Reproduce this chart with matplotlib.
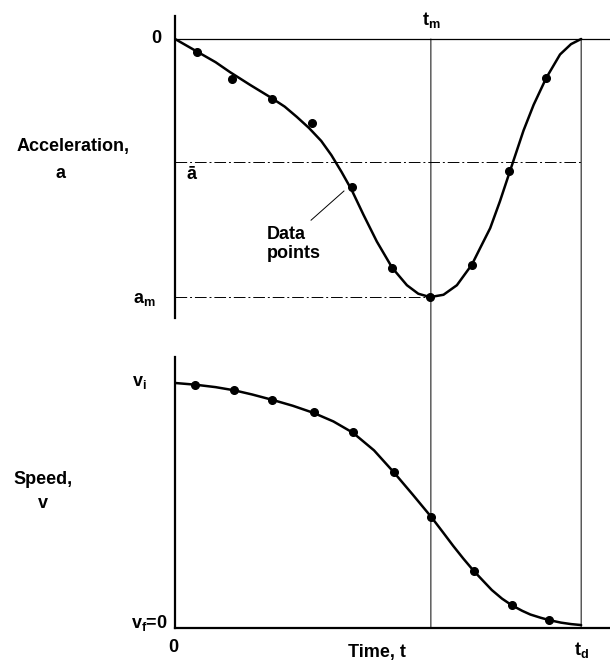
import matplotlib.pyplot as plt
from matplotlib.patches import ConnectionPatch

plt.rcParams["font.family"] = ["Liberation Sans", "DejaVu Sans"]
plt.rcParams["font.weight"] = "bold"
plt.rcParams["mathtext.default"] = "regular"

# key levels (normalised: t_d = 1, a_m = -1, v_i = 1)
T_M = 0.63
T_D = 1.0
A_BAR = -0.475
A_M = -1.0

# acceleration: measured points
acc_t = [0.053, 0.141, 0.238, 0.338, 0.435, 0.535, 0.628, 0.731, 0.823, 0.914]
acc_pts = [-0.049, -0.155, -0.232, -0.326, -0.574, -0.887, -1.0, -0.874, -0.512, -0.151]

# acceleration: faired curve
acc_curve_t = [0, 0.05, 0.10, 0.135, 0.185, 0.234, 0.27, 0.30, 0.33, 0.36, 0.385,
               0.41, 0.435, 0.464, 0.497, 0.535, 0.571, 0.599, 0.628, 0.661, 0.694,
               0.731, 0.751, 0.776, 0.800, 0.823, 0.84, 0.858, 0.883, 0.914, 0.948,
               0.975, 1.0]
acc_curve = [0, -0.045, -0.090, -0.128, -0.178, -0.225, -0.262, -0.302, -0.345, -0.395,
             -0.45, -0.515, -0.585, -0.681, -0.785, -0.887, -0.954, -0.987, -1.0, -0.991,
             -0.954, -0.874, -0.811, -0.733, -0.629, -0.52, -0.44, -0.355, -0.255, -0.151,
             -0.060, -0.02, 0]

# speed: measured points
spd_t = [0.050, 0.146, 0.240, 0.341, 0.438, 0.539, 0.631, 0.735, 0.829, 0.922]
spd_pts = [0.993, 0.970, 0.931, 0.881, 0.800, 0.635, 0.453, 0.234, 0.095, 0.034]

# speed: faired curve
spd_curve_t = [0, 0.05, 0.1, 0.146, 0.19, 0.24, 0.29, 0.341, 0.39, 0.438, 0.49, 0.539,
               0.585, 0.631, 0.66, 0.685, 0.71, 0.735, 0.76, 0.78, 0.805, 0.829, 0.855,
               0.875, 0.9, 0.922, 0.95, 0.975, 1.0]
spd_curve = [1.0, 0.993, 0.983, 0.970, 0.953, 0.931, 0.907, 0.878, 0.843, 0.797, 0.725,
             0.635, 0.545, 0.453, 0.39, 0.335, 0.283, 0.234, 0.19, 0.155, 0.12, 0.093,
             0.07, 0.055, 0.042, 0.032, 0.022, 0.016, 0.012]

FS = 13
dash_dot = (0, (12, 3, 2, 3))

fig = plt.figure(figsize=(6.1, 6.62), dpi=100)
ax1 = fig.add_axes([175 / 610, 1 - 318 / 662, 435 / 610, 302 / 662])
ax2 = fig.add_axes([175 / 610, 1 - 628 / 662, 435 / 610, 271 / 662])

# ---- acceleration panel
ax1.set_xlim(0, 1.071)
ax1.set_ylim(-1.081, 0.089)
for s in ["top", "right", "bottom"]:
    ax1.spines[s].set_visible(False)
ax1.spines["left"].set_linewidth(1.6)
ax1.set_xticks([])
ax1.set_yticks([])

ax1.axhline(0, color="black", lw=0.9)
ax1.plot([0, T_D], [A_BAR, A_BAR], color="black", lw=0.7, ls=dash_dot)
ax1.plot([0, T_M], [A_M, A_M], color="black", lw=0.7, ls=dash_dot)
ax1.plot(acc_curve_t, acc_curve, color="black", lw=1.8,
         solid_capstyle="round", solid_joinstyle="round")
ax1.plot(acc_t, acc_pts, "o", color="black", ms=5.5)
ax1.plot([0.335, 0.416], [-0.702, -0.589], color="black", lw=0.7)

ax1.text(-0.047, 0, "0", ha="center", va="center", fontsize=FS)
ax1.text(T_M, 0.074, r"$\mathregular{t_m}$", ha="center", va="center", fontsize=FS, clip_on=False)
ax1.text(0.04, -0.525, "ā", ha="center", va="center", fontsize=FS)
ax1.text(-0.075, -1.01, r"$\mathregular{a_m}$", ha="center", va="center", fontsize=FS)
ax1.text(0.225, -0.795, "Data\npoints", ha="left", va="center", fontsize=FS, linespacing=1.15)

# ---- speed panel
ax2.set_xlim(0, 1.071)
ax2.set_ylim(0, 1.106)
for s in ["top", "right"]:
    ax2.spines[s].set_visible(False)
ax2.spines["left"].set_linewidth(1.6)
ax2.spines["bottom"].set_linewidth(1.6)
ax2.set_xticks([])
ax2.set_yticks([])

ax2.plot(spd_curve_t, spd_curve, color="black", lw=1.8,
         solid_capstyle="round", solid_joinstyle="round")
ax2.plot(spd_t, spd_pts, "o", color="black", ms=5.5)

ax2.text(-0.088, 1.0, r"$\mathregular{v_i}$", ha="center", va="center", fontsize=FS)
ax2.text(-0.018, 0.02, r"v$\mathregular{_f}$=0", ha="right", va="center", fontsize=FS)
ax2.text(-0.005, -0.078, "0", ha="center", va="center", fontsize=FS, clip_on=False)
ax2.text(0.498, -0.10, "Time, t", ha="center", va="center", fontsize=FS, clip_on=False)
ax2.text(T_D, -0.09, r"$\mathregular{t_d}$", ha="center", va="center", fontsize=FS, clip_on=False)

# vertical lines at t_m and t_d spanning both panels
for tv in [T_M, T_D]:
    con = ConnectionPatch(xyA=(tv, 0), coordsA=ax1.transData,
                          xyB=(tv, 0), coordsB=ax2.transData,
                          color="black", lw=0.7)
    fig.add_artist(con)

fig.text(73 / 610, 1 - 147 / 662, "Acceleration,", ha="center", va="center", fontsize=FS)
fig.text(60 / 610, 1 - 173 / 662, "a", ha="center", va="center", fontsize=FS)
fig.text(43 / 610, 1 - 480 / 662, "Speed,", ha="center", va="center", fontsize=FS)
fig.text(43 / 610, 1 - 503 / 662, "v", ha="center", va="center", fontsize=FS)

fig.savefig("out.png", dpi=100)
